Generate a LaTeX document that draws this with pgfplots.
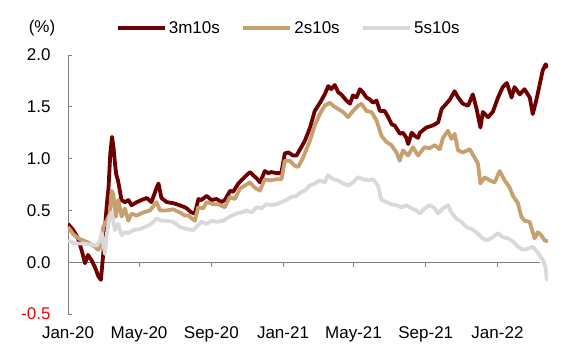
\documentclass[border=0pt]{standalone}
\usepackage{pgfplots}
\pgfplotsset{compat=1.18}
\usepackage{fontspec}
\setmainfont{Liberation Sans}
\definecolor{cRed}{RGB}{110,0,0}
\definecolor{cTan}{RGB}{200,160,112}
\definecolor{cGray}{RGB}{217,217,217}
\definecolor{axgray}{RGB}{128,128,128}
\begin{document}
\begin{tikzpicture}[font=\fontsize{17pt}{20pt}\selectfont]
\begin{axis}[
  name=ax,
  scale only axis, width=480pt, height=259pt,
  xmin=0, xmax=817, ymin=-0.5, ymax=2.0,
  axis y line=left, axis x line=bottom,
  x axis line style={draw=none},
  y axis line style={-, draw=axgray, line width=0.8pt},
  xtick={0,121,244,366,486,609,731},
  xticklabels={Jan-20,May-20,Sep-20,Jan-21,May-21,Sep-21,Jan-22},
  xtick style={draw=none},
  ytick={-0.5,0,0.5,1,1.5,2},
  yticklabels={{\color{red}-0.5},0.0,0.5,1.0,1.5,2.0},
  ytick style={draw=axgray, line width=0.8pt},
  tick align=inside, major tick length=4.5pt,
  yticklabel style={xshift=-14pt},
  xticklabel style={yshift=-9pt},
  tick label style={font=\fontsize{17pt}{20pt}\selectfont},
  legend columns=3,
  legend style={draw=none, fill=none, at={(axis description cs:0.092,1.104)}, anchor=west,
    font=\fontsize{17pt}{20pt}\selectfont,
    /tikz/every even column/.append style={column sep=19pt}},
  legend image code/.code={\draw[#1, line width=4.5pt] (0pt,0pt) -- (47pt,0pt);},
  every axis plot/.append style={line width=3.8pt, line join=round},
]
\draw[axgray, line width=0.8pt] (axis cs:0,0) -- (axis cs:803,0);
\pgfplotsinvokeforeach{121,244,366,486,609,731}{\draw[axgray, line width=0.8pt] (axis cs:#1,0) -- ([yshift=-4.5pt]axis cs:#1,0);}

\addplot[cRed] coordinates {
(0,0.37)(9,0.31)(17,0.23)(23,0.12)(29,-0.01)(34,0.07)(40,0.02)(46,-0.05)(52,-0.14)(56,-0.17)
(60,0.08)(63,0.34)(66,0.55)(69,0.72)(72,1.05)(75,1.21)(78,1.08)(80,0.95)(82,0.85)(85,0.79)(88,0.70)(91,0.60)
(97,0.58)(103,0.60)(108,0.55)(117,0.58)(125,0.60)(134,0.62)(142,0.58)(151,0.72)(154,0.76)(159,0.62)
(168,0.58)(179,0.57)(190,0.55)(199,0.53)(202,0.52)(210,0.48)(216,0.47)(222,0.61)(227,0.60)(236,0.64)
(244,0.60)(253,0.61)(261,0.58)(267,0.60)(276,0.69)(281,0.68)(290,0.76)(295,0.79)(304,0.84)(310,0.87)
(315,0.84)(321,0.81)(327,0.77)(335,0.88)(341,0.86)(346,0.87)(355,0.86)(363,0.86)(369,1.05)(375,1.06)
(383,1.03)(389,1.03)(397,1.11)(403,1.17)(412,1.30)(420,1.46)(429,1.54)(437,1.62)(443,1.70)(448,1.67)
(454,1.71)(460,1.64)(465,1.62)(474,1.56)(480,1.53)(485,1.61)(491,1.59)(497,1.67)(502,1.64)(508,1.59)
(514,1.57)(519,1.54)(525,1.56)(531,1.46)(539,1.46)(545,1.40)(551,1.33)(556,1.32)(565,1.24)(570,1.25)
(576,1.20)(579,1.14)(585,1.25)(590,1.22)(596,1.20)(599,1.25)(610,1.30)(621,1.32)(630,1.35)(636,1.48)
(644,1.53)(650,1.57)(658,1.65)(664,1.59)(672,1.53)(681,1.51)(689,1.62)(695,1.49)(702,1.30)(706,1.45)
(715,1.40)(723,1.45)(732,1.59)(740,1.69)(747,1.73)(755,1.59)(760,1.69)(769,1.62)(777,1.67)(786,1.59)
(791,1.43)(797,1.56)(803,1.72)(808,1.85)(813,1.91)(817,1.88)
};
\addlegendentry{3m10s}

\addplot[cTan] coordinates {
(0,0.34)(9,0.27)(17.5,0.23)(26,0.21)(34.5,0.19)(43,0.16)(51.5,0.12)(55.6,0.17)(60,0.34)(65.8,0.40)
(71.4,0.47)(74.3,0.69)(77,0.66)(81.6,0.44)(85.5,0.60)(91.3,0.44)(96.9,0.52)(102.5,0.40)(108.3,0.47)(116.8,0.45)
(128,0.48)(139.5,0.50)(150.8,0.58)(156.5,0.50)(167.9,0.50)(179,0.51)(190.5,0.48)(199,0.45)(204.6,0.45)(216,0.40)
(221.6,0.53)(230.1,0.52)(235.9,0.58)(247.1,0.56)(255.6,0.56)(267,0.53)(275.5,0.63)(284,0.61)(292.6,0.71)(301.1,0.74)
(309.5,0.77)(318,0.72)(326.5,0.69)(335,0.80)(343.5,0.79)(354.9,0.80)(363.4,0.80)(369,0.98)(377.6,0.98)(386.1,0.93)
(391.7,0.92)(400.2,1.01)(403,1.05)(411.6,1.17)(420,1.32)(428.6,1.43)(437,1.51)(445.4,1.54)(451.2,1.51)(459.7,1.48)
(468.2,1.45)(476.7,1.40)(485.2,1.46)(493.7,1.51)(499.5,1.53)(508,1.46)(516.5,1.45)(525,1.37)(533.5,1.22)(542,1.16)
(550.5,1.13)(559,1.06)(564.6,0.98)(570.2,1.08)(578.7,1.03)(587.2,1.11)(595.8,1.03)(604.3,1.09)(607.2,1.11)(615.7,1.10)
(624.1,1.13)(632.7,1.09)(638.3,1.20)(646.8,1.27)(652.6,1.19)(658.2,1.24)(663.8,1.08)(672.3,1.06)(683.7,1.09)(692.2,1.01)
(697.8,0.95)(701.9,0.76)(709.2,0.82)(717.7,0.79)(726.2,0.77)(734.7,0.88)(743.2,0.79)(751.7,0.72)(757.3,0.64)(765.8,0.57)
(771.6,0.44)(777.2,0.40)(785.7,0.39)(794.2,0.23)(799.8,0.29)(805.6,0.26)(811.2,0.21)(816.8,0.20)
};
\addlegendentry{2s10s}

\addplot[cGray] coordinates {
(0,0.21)(11.9,0.18)(26,0.18)(40.3,0.17)(48.8,0.16)(54.4,0.21)(57.3,0.28)(62.9,0.08)(65.8,0.26)(71.4,0.45)
(74.3,0.48)(79.9,0.31)(85.5,0.37)(91.3,0.26)(96.9,0.29)(102.5,0.28)(111,0.31)(122.4,0.32)(131,0.34)(139.5,0.36)
(150.8,0.42)(159.4,0.40)(167.9,0.40)(179,0.39)(190.5,0.34)(201.9,0.32)(213.1,0.31)(221.6,0.36)(227.4,0.39)(235.9,0.37)
(244.4,0.40)(252.9,0.39)(264.1,0.40)(275.5,0.44)(286.9,0.47)(295.4,0.48)(303.9,0.50)(312.4,0.48)(320.9,0.53)(329.4,0.52)
(337.9,0.56)(346.4,0.55)(354.9,0.56)(363.4,0.58)(371.9,0.60)(380.4,0.63)(388.9,0.64)(397.4,0.68)(403,0.69)(411.6,0.74)
(420,0.76)(428.6,0.79)(437,0.77)(442.7,0.84)(451.2,0.80)(459.7,0.79)(468.2,0.76)(476.7,0.74)(485.2,0.77)(493.7,0.82)
(502.2,0.80)(510.7,0.79)(519.2,0.80)(527.7,0.74)(533.5,0.60)(542,0.58)(550.5,0.56)(559,0.55)(567.5,0.53)(576,0.55)
(584.5,0.52)(593,0.50)(598.6,0.47)(607.2,0.52)(615.7,0.55)(624.1,0.52)(629.8,0.47)(638.3,0.52)(646.8,0.55)(652.6,0.48)
(661.1,0.42)(669.6,0.39)(678.1,0.34)(686.6,0.32)(695,0.29)(703.5,0.24)(712,0.21)(720.5,0.23)(731.8,0.28)(740.3,0.24)
(748.8,0.23)(757.3,0.20)(765.8,0.15)(774.3,0.12)(782.8,0.13)(791.3,0.15)(799.8,0.09)(808.3,0.02)(812.9,-0.05)(815,-0.17)
(816.8,-0.11)
};
\addlegendentry{5s10s}
\end{axis}
\node at ([xshift=-26pt,yshift=27pt]ax.north west) {(\%)};
\pgfresetboundingbox
\path ([xshift=-68pt,yshift=-37pt]ax.south west) rectangle ([xshift=18pt,yshift=55pt]ax.north east);
\end{tikzpicture}
\end{document}
